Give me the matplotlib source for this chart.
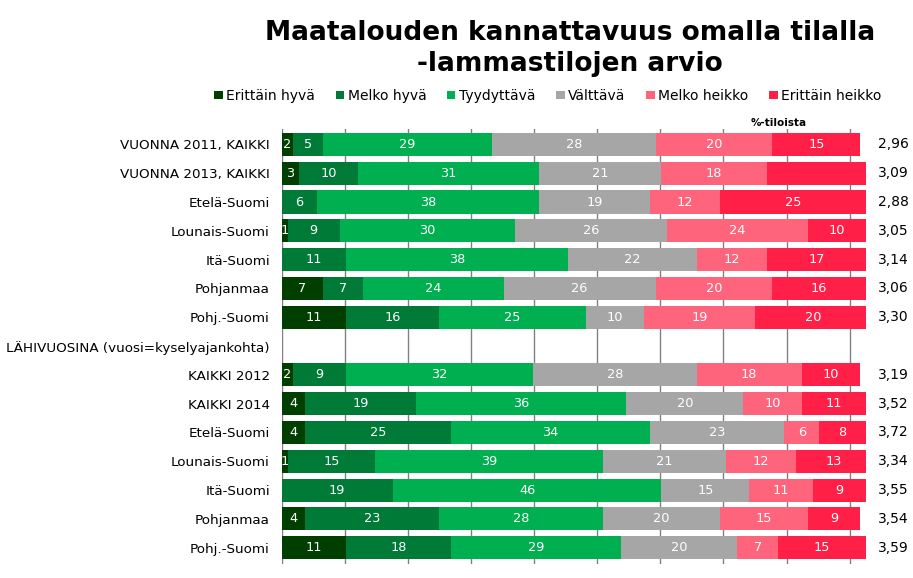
import numpy as np
import matplotlib
matplotlib.use('Agg')
import matplotlib.pyplot as plt
from matplotlib.patches import Patch

plt.rcParams.update({'font.family': 'DejaVu Sans', 'figure.facecolor': 'white'})

categories = ['VUONNA 2011, KAIKKI', 'VUONNA 2013, KAIKKI', 'Etelä-Suomi', 'Lounais-Suomi',
              'Itä-Suomi', 'Pohjanmaa', 'Pohj.-Suomi', 'LÄHIVUOSINA (vuosi=kyselyajankohta)',
              'KAIKKI 2012', 'KAIKKI 2014', 'Etelä-Suomi', 'Lounais-Suomi', 'Itä-Suomi',
              'Pohjanmaa', 'Pohj.-Suomi']
series_names = ['Erittäin hyvä', 'Melko hyvä', 'Tyydyttävä', 'Välttävä', 'Melko heikko', 'Erittäin heikko']

erittain_hyva = [2, 3, 0, 1, 0, 7, 11, 0, 2, 4, 4, 1, 0, 4, 11]
melko_hyva = [5, 10, 6, 9, 11, 7, 16, 0, 9, 19, 25, 15, 19, 23, 18]
tyydyttava = [29, 31, 38, 30, 38, 24, 25, 0, 32, 36, 34, 39, 46, 28, 29]
valttava = [28, 21, 19, 26, 22, 26, 10, 0, 28, 20, 23, 21, 15, 20, 20]
melko_heikko = [20, 18, 12, 24, 12, 20, 19, 0, 18, 10, 6, 12, 11, 15, 7]
erittain_heikko = [15, 17, 25, 10, 17, 16, 20, 0, 10, 11, 8, 13, 9, 9, 15]
averages = ['2,96', '3,09', '2,88', '3,05', '3,14', '3,06', '3,30', '',
            '3,19', '3,52', '3,72', '3,34', '3,55', '3,54', '3,59']
# labels missing from the original chart: (row, series)
hidden_labels = [(1, 5)]

colors = ['#003F00', '#007A37', '#00B050', '#A6A6A6', '#FF647D', '#FF1F47']
series = [erittain_hyva, melko_hyva, tyydyttava, valttava, melko_heikko, erittain_heikko]

fig = plt.figure(figsize=(9.13, 5.78), dpi=100)
ax = fig.add_axes([0.3085, 0.025, 0.640, 0.7526])

y = np.arange(len(categories))
left = np.zeros(len(categories))
for si, (vals, col) in enumerate(zip(series, colors)):
    vals = np.array(vals, dtype=float)
    ax.barh(y, vals, left=left, height=0.8, color=col, zorder=2)
    for ri, v in enumerate(vals):
        if v > 0 and (ri, si) not in hidden_labels:
            ax.text(left[ri] + v / 2, ri, f'{int(v)}', ha='center', va='center',
                    color='white', fontsize=9.3, zorder=3)
    left += vals

ax.set_xlim(0, 100)
ax.set_ylim(len(categories) - 0.5 + 0.05, -0.5 - 0.05)
for gx in np.arange(0, 100, 10.8):
    ax.axvline(gx, color='#808080', lw=1, zorder=1)
for s in ax.spines.values():
    s.set_visible(False)
ax.set_xticks([])
ax.set_yticks(y)
ax.set_yticklabels(categories, fontsize=9.7)
ax.tick_params(axis='y', length=0, pad=8.5)

for ri, a in enumerate(averages):
    ax.text(104.7, ri, a, ha='center', va='center', fontsize=10, color='black')

ax.text(85, -0.75, '%-tiloista', ha='center', va='center', fontsize=7.5, fontweight='bold')

fig.text(0.624, 0.943, 'Maatalouden kannattavuus omalla tilalla', ha='center', va='center',
         fontsize=19, fontweight='bold')
fig.text(0.624, 0.889, '-lammastilojen arvio', ha='center', va='center',
         fontsize=19, fontweight='bold')

handles = [Patch(facecolor=c, label=n) for c, n in zip(colors, series_names)]
fig.legend(handles=handles, loc='center', bbox_to_anchor=(0.6, 0.834), ncol=6, frameon=False,
           fontsize=10, handlelength=0.6, handleheight=0.6, handletextpad=0.25, columnspacing=1.5)

fig.savefig('out.png', dpi=100)
